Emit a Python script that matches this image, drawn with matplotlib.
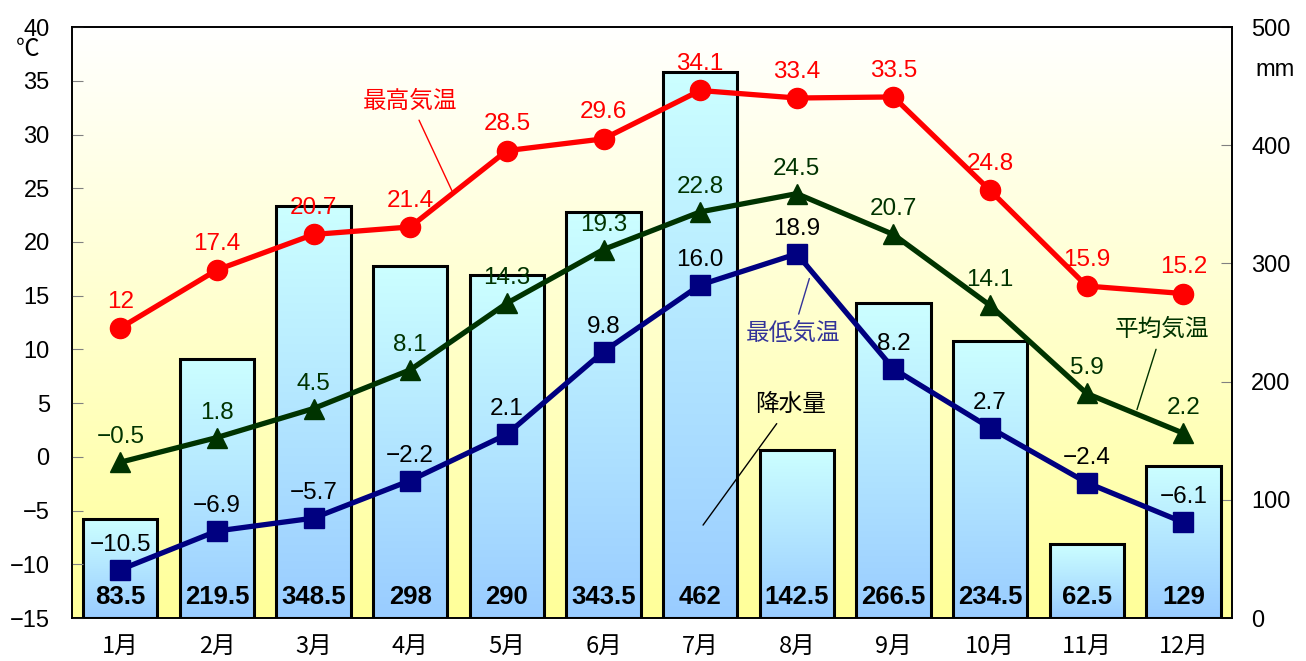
import matplotlib
matplotlib.use('Agg')
import matplotlib.pyplot as plt
import numpy as np
from matplotlib.colors import LinearSegmentedColormap

plt.rcParams['font.family'] = ['Liberation Sans', 'Noto Sans CJK JP', 'DejaVu Sans']

# data
months = ['1月', '2月', '3月', '4月', '5月', '6月', '7月', '8月', '9月', '10月', '11月', '12月']
temp_max = [12, 17.4, 20.7, 21.4, 28.5, 29.6, 34.1, 33.4, 33.5, 24.8, 15.9, 15.2]
temp_mean = [-0.5, 1.8, 4.5, 8.1, 14.3, 19.3, 22.8, 24.5, 20.7, 14.1, 5.9, 2.2]
temp_min = [-10.5, -6.9, -5.7, -2.2, 2.1, 9.8, 16.0, 18.9, 8.2, 2.7, -2.4, -6.1]
precip = [83.5, 219.5, 348.5, 298, 290, 343.5, 462, 142.5, 266.5, 234.5, 62.5, 129]
max_labels = ['12', '17.4', '20.7', '21.4', '28.5', '29.6', '34.1', '33.4', '33.5', '24.8', '15.9', '15.2']

red = '#FF0000'
green = '#003300'
navy = '#000080'

x = np.arange(len(months))

fig = plt.figure(figsize=(13.06, 6.61), dpi=100)
ax = fig.add_axes([0.0551, 0.065, 0.888, 0.894])
ax2 = ax.twinx()
ax.set_zorder(2)
ax2.set_zorder(1)
ax.patch.set_visible(False)

# background gradient (yellow at bottom, white at top)
grad = np.linspace(0, 1, 256).reshape(-1, 1)
bg_cmap = LinearSegmentedColormap.from_list('bg', ['#FFFF99', '#FFFFFF'])
ax2.imshow(grad, extent=(-0.5, 11.5, 0, 500), origin='lower', cmap=bg_cmap,
           aspect='auto', zorder=0)

# precipitation bars with gradient fill
bar_cmap = LinearSegmentedColormap.from_list('bar', ['#99CCFF', '#CCFFFF'])
bars = ax2.bar(x, precip, width=0.77, facecolor='none', edgecolor='black',
               linewidth=2.2, zorder=3)
for b in bars:
    x0 = b.get_x()
    w = b.get_width()
    h = b.get_height()
    im = ax2.imshow(grad, extent=(x0, x0 + w, 0, h), origin='lower', cmap=bar_cmap,
                    aspect='auto', zorder=2)
    im.set_clip_path(b)
    ax2.text(x0 + w / 2, 18, f'{h:g}', ha='center', va='center',
             fontsize=18.5, fontweight='bold', zorder=4)

ax2.set_xlim(-0.5, 11.5)
ax2.set_ylim(0, 500)
ax2.set_yticks(range(0, 501, 100))

# temperature lines
ax.plot(x, temp_min, color=navy, lw=3.8, marker='s', ms=14, zorder=3)
ax.plot(x, temp_mean, color=green, lw=3.8, marker='^', ms=15, zorder=4)
ax.plot(x, temp_max, color=red, lw=3.8, marker='o', ms=14.5, zorder=5)

for i in range(len(months)):
    ax.annotate(max_labels[i], (x[i], temp_max[i]), xytext=(0, 19),
                textcoords='offset points', ha='center', va='center',
                color=red, fontsize=17.5)
    ax.annotate(f'{temp_mean[i]:.1f}'.replace('-', '\u2212'), (x[i], temp_mean[i]),
                xytext=(0, 18), textcoords='offset points', ha='center', va='center',
                color=green, fontsize=17.5)
    ax.annotate(f'{temp_min[i]:.1f}'.replace('-', '\u2212'), (x[i], temp_min[i]),
                xytext=(0, 18), textcoords='offset points', ha='center', va='center',
                color='black', fontsize=17.5)

# callouts
ax.annotate('最高気温', xy=(3.43, 24.8), xytext=(3.0, 33.1), ha='center', va='center',
            color=red, fontsize=17,
            arrowprops=dict(arrowstyle='-', color=red, lw=1, shrinkA=4, shrinkB=0))
ax.annotate('最低気温', xy=(7.13, 16.6), xytext=(6.96, 11.5), ha='center', va='center',
            color='#333399', fontsize=17,
            arrowprops=dict(arrowstyle='-', color='#333399', lw=1, shrinkA=4, shrinkB=0))
ax.annotate('平均気温', xy=(10.52, 4.4), xytext=(10.78, 11.8), ha='center', va='center',
            color=green, fontsize=17,
            arrowprops=dict(arrowstyle='-', color=green, lw=1, shrinkA=4, shrinkB=0))
ax.annotate('降水量', xy=(6.03, -6.35), xytext=(6.93, 4.8), ha='center', va='center',
            color='black', fontsize=17,
            arrowprops=dict(arrowstyle='-', color='black', lw=1, shrinkA=4, shrinkB=0))

ax.set_xlim(-0.5, 11.5)
ax.set_ylim(-15, 40)
ax.set_yticks(range(-15, 41, 5))
ax.set_xticks(x)
ax.set_xticklabels(months, family=['Noto Sans CJK JP'])

ax.tick_params(axis='y', direction='in', length=8, pad=16, labelsize=17, color='gray')
ax.tick_params(axis='x', length=0, pad=12, labelsize=17)
ax2.tick_params(axis='y', direction='in', length=8, pad=14, labelsize=17, color='gray')

for a in (ax, ax2):
    for s in a.spines.values():
        s.set_linewidth(1.2)
        s.set_color('black')

fig.text(28 / 1306, 1 - 50 / 661, '℃', ha='center', va='center', fontsize=17)
fig.text(1275 / 1306, 1 - 70 / 661, 'mm', ha='center', va='center', fontsize=17)

fig.savefig('out.png', dpi=100)
